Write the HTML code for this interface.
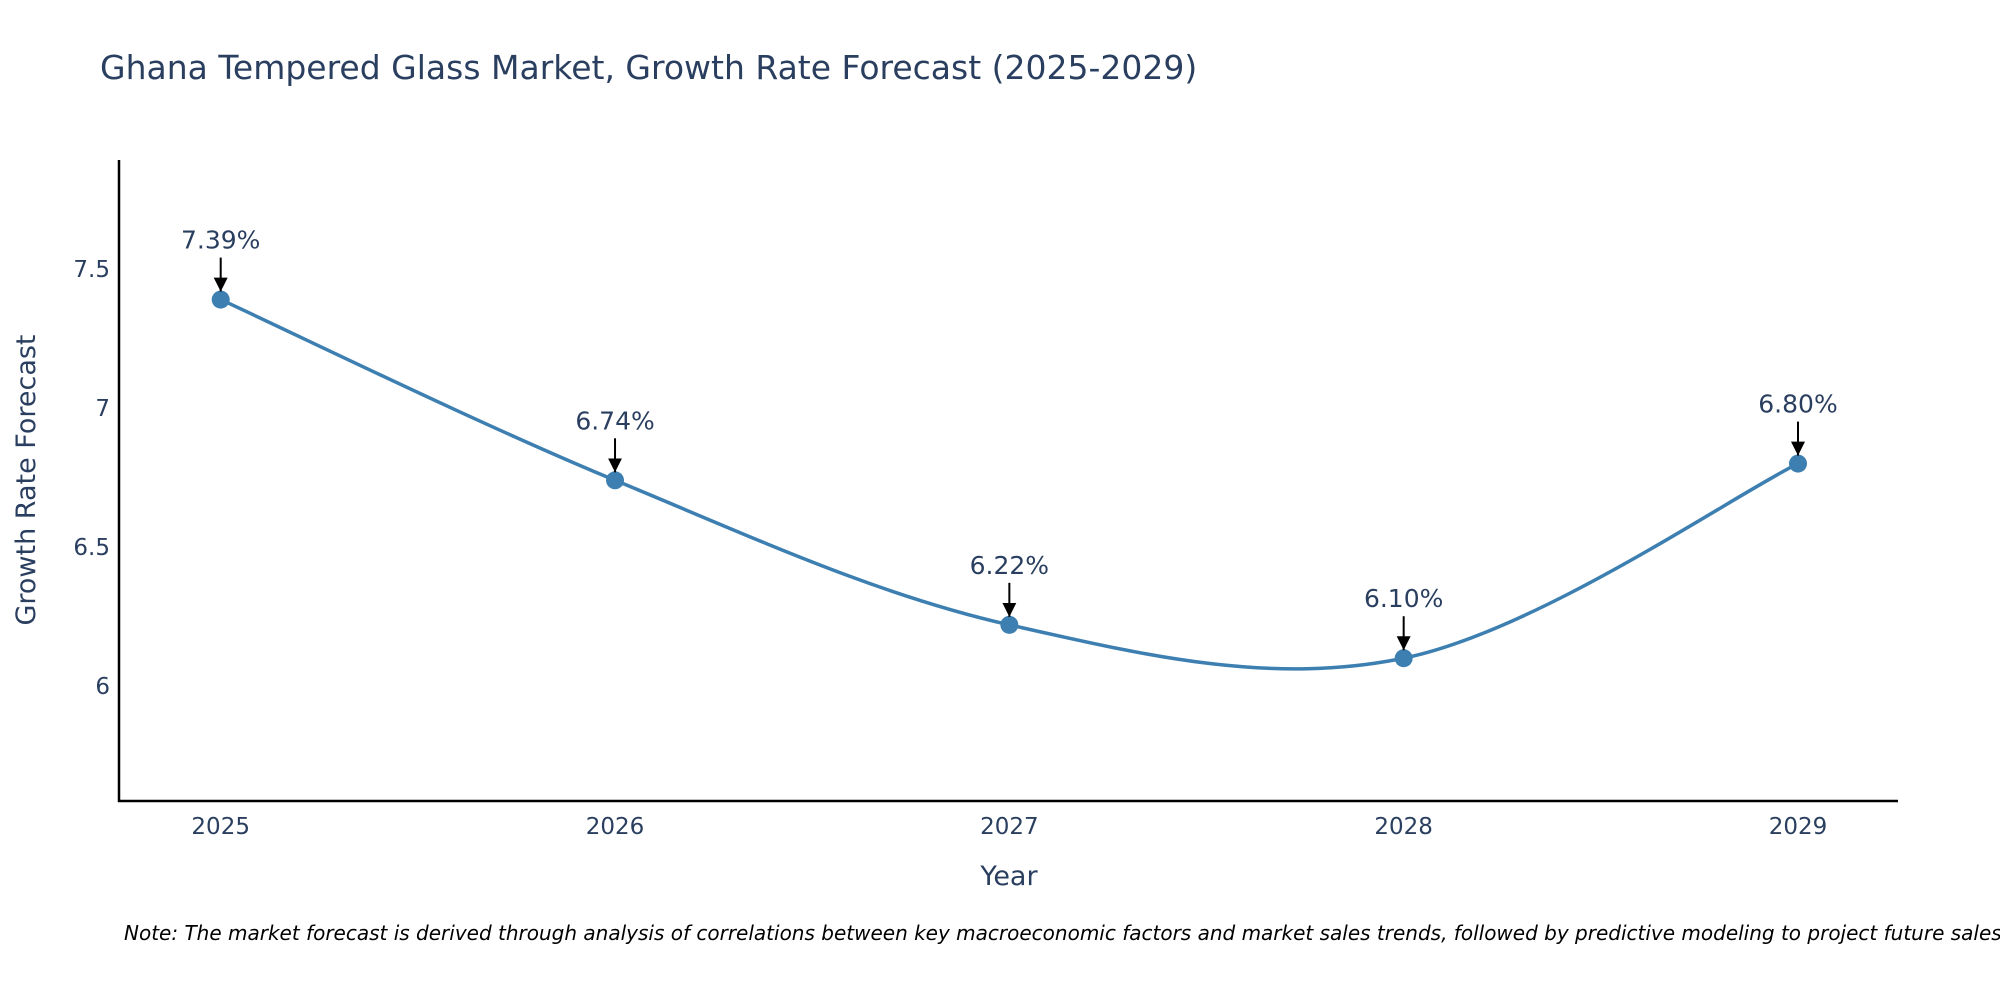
<!DOCTYPE html>
<html><head><meta charset="utf-8"><style>
body{margin:0;background:#fff;}
svg text{font-family:"DejaVu Sans","Liberation Sans",sans-serif;}
</style></head><body>
<svg id="chart" width="2000" height="1000" viewBox="0 0 2000 1000" xmlns="http://www.w3.org/2000/svg">
<rect width="2000" height="1000" fill="#fff"/>
<text x="100" y="79" font-size="33" fill="#2a3f5f">Ghana Tempered Glass Market, Growth Rate Forecast (2025-2029)</text>
<defs><marker id="ah" markerWidth="14" markerHeight="14" refX="12" refY="6" orient="auto" markerUnits="userSpaceOnUse" viewBox="0 0 12 12"><path d="M0,0 L12,6 L0,12 Z" fill="#000"/></marker></defs>
<g id="plot"></g>
<line x1="119" y1="160" x2="119" y2="802" stroke="#000" stroke-width="2.5"/>
<line x1="118" y1="801" x2="1898" y2="801" stroke="#000" stroke-width="2.5"/>
<text x="1009" y="885" font-size="27" fill="#2a3f5f" text-anchor="middle">Year</text>
<text transform="translate(35,480) rotate(-90)" font-size="27" fill="#2a3f5f" text-anchor="middle">Growth Rate Forecast</text>
<text x="124" y="940" font-size="20" font-style="italic" fill="#000">Note: The market forecast is derived through analysis of correlations between key macroeconomic factors and market sales trends, followed by predictive modeling to project future sales.</text>
</svg>
<script>
const years = [2025, 2026, 2027, 2028, 2029];
const rates = [7.39, 6.74, 6.22, 6.10, 6.80];
const labels = ["7.39%", "6.74%", "6.22%", "6.10%", "6.80%"];
const yTicks = [6, 6.5, 7, 7.5];
const yTickLabels = ["6", "6.5", "7", "7.5"];

const NS = "http://www.w3.org/2000/svg";
const g = document.getElementById('plot');
const xS = v => 220.7 + (v - 2025) * (1798 - 220.7) / 4;
const yS = v => 686 - (v - 6) * 278;
function mk(tag, attrs, parent){const e=document.createElementNS(NS,tag);for(const k in attrs)e.setAttribute(k,attrs[k]);(parent||g).appendChild(e);return e;}

yTicks.forEach((t,i)=>{
  const e = mk('text',{x:110,y:yS(t)+8,'font-size':23,fill:'#2a3f5f','text-anchor':'end'});
  
  
  e.textContent = yTickLabels[i];
});
years.forEach(y=>{
  const e = mk('text',{x:xS(y),y:834,'font-size':23,fill:'#2a3f5f','text-anchor':'middle'});
  
  
  e.textContent = y;
});

const pts = years.map((y,i)=>[xS(y), yS(rates[i])]);
let d = `M${pts[0][0]},${pts[0][1]}`;
const k = 0.17;
for(let i=0;i<pts.length-1;i++){
  const p0 = pts[Math.max(0,i-1)], p1=pts[i], p2=pts[i+1], p3=pts[Math.min(pts.length-1,i+2)];
  const c1=[p1[0]+(p2[0]-p0[0])*k, p1[1]+(p2[1]-p0[1])*k];
  const c2=[p2[0]-(p3[0]-p1[0])*k, p2[1]-(p3[1]-p1[1])*k];
  d += ` C${c1[0]},${c1[1]} ${c2[0]},${c2[1]} ${p2[0]},${p2[1]}`;
}
const line = mk('path',{d:d,fill:'none',stroke:'#3d7fb1','stroke-width':3.5});



pts.forEach((p,i)=>{
  const c = mk('circle',{cx:p[0],cy:p[1],r:9,fill:'#3d7fb1'});
  
  
  const a = mk('line',{x1:p[0],y1:p[1]-42,x2:p[0],y2:p[1]-8,stroke:'#000','stroke-width':2,'marker-end':'url(#ah)'});
  
  
  const t = mk('text',{x:p[0],y:p[1]-51,'font-size':25,fill:'#2a3f5f','text-anchor':'middle'});
  
  
  t.textContent = labels[i];
});
</script>
</body></html>
